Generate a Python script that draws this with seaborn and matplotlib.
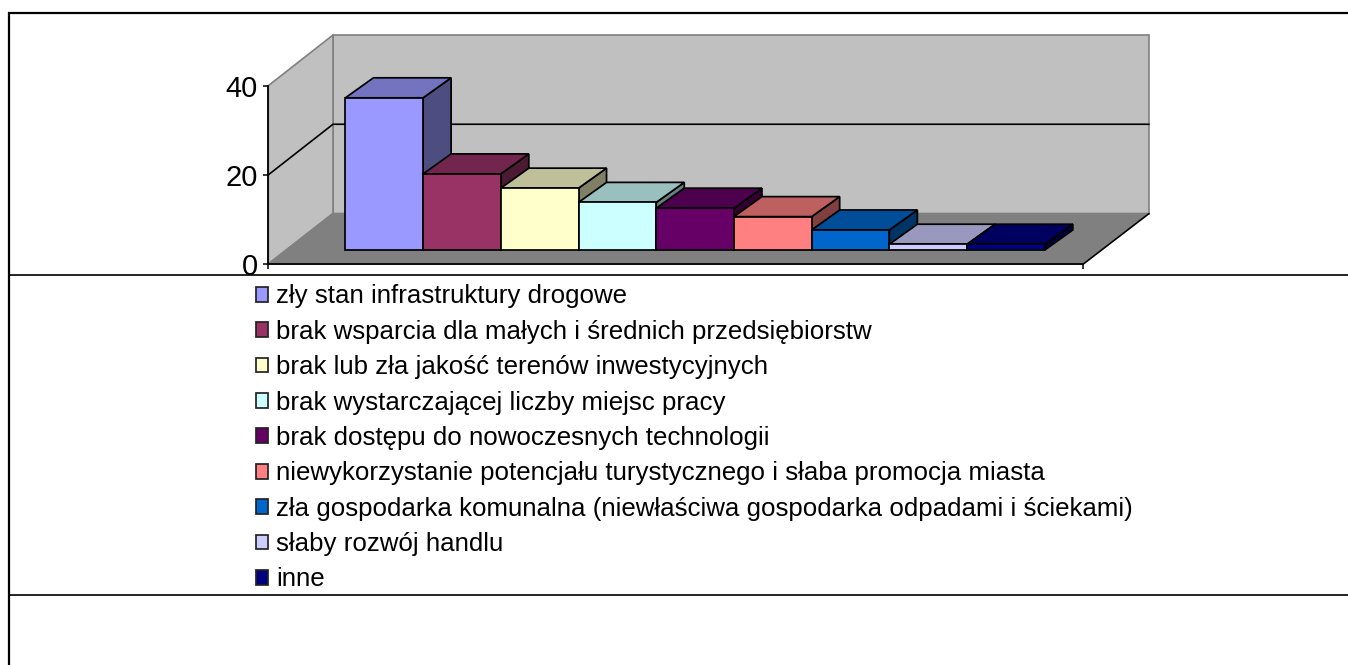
import matplotlib
matplotlib.use("Agg")
import matplotlib.pyplot as plt
import matplotlib.colors as mc
from matplotlib.patches import Polygon
import pandas as pd
import seaborn as sns

categories = [
    "zły stan infrastruktury drogowe",
    "brak wsparcia dla małych i średnich przedsiębiorstw",
    "brak lub zła jakość terenów inwestycyjnych",
    "brak wystarczającej liczby miejsc pracy",
    "brak dostępu do nowoczesnych technologii",
    "niewykorzystanie potencjału turystycznego i słaba promocja miasta",
    "zła gospodarka komunalna (niewłaściwa gospodarka odpadami i ściekami)",
    "słaby rozwój handlu",
    "inne",
]
values = [34.2, 17.1, 13.9, 10.7, 9.4, 7.5, 4.5, 1.3, 1.3]
colors = ["#9999FF", "#993366", "#FFFFCC", "#CCFFFF", "#660066",
          "#FF8080", "#0066CC", "#CCCCFF", "#000080"]
y_ticks = [0, 20, 40]

W, H = 1348, 665
PX_PER_UNIT = 4.45
BAR_LEFT, BAR_RIGHT = 345.4, 1044.8
BAR_PX = (BAR_RIGHT - BAR_LEFT) / 9
DEPTH_X, DEPTH_Y = 28.0, 20.0

sns.set_style("white")
plt.rcParams["font.family"] = ["Liberation Sans", "DejaVu Sans"]

fig = plt.figure(figsize=(W / 100, H / 100), dpi=100)
fig.patch.set_facecolor("white")


def rect(l, t, r, b):
    return [l / W, 1 - b / H, (r - l) / W, (b - t) / H]


# background: walls, floor and the outer frame, in pixel space
bg = fig.add_axes([0, 0, 1, 1], zorder=0)
bg.set_xlim(0, W)
bg.set_ylim(H, 0)
bg.axis("off")

fl, fr, fb, ftop = 268.3, 1083.3, 264.0, 85.7
bl, br, bb, btop = 333.0, 1149.0, 213.5, 35.0
bg.add_patch(Polygon([(bl, btop), (br, btop), (br, bb), (bl, bb)], fc="#C0C0C0", ec="#808080", lw=1.2))
bg.add_patch(Polygon([(fl, ftop), (bl, btop), (bl, bb), (fl, fb)], fc="#C0C0C0", ec="#808080", lw=1.2))
bg.add_patch(Polygon([(fl, fb), (bl, bb), (br, bb), (fr, fb)], fc="#808080", ec="#808080", lw=1.2))
bg.plot([fr, br], [fb, bb], color="black", lw=1.1)

# gridline on the walls for each inner tick
for t in y_ticks[1:-1]:
    yf = fb - (fb - ftop) * t / y_ticks[-1]
    yb = bb - (bb - btop) * t / y_ticks[-1]
    bg.plot([fl, bl, br], [yf, yb, yb], color="black", lw=1.2)

# frame
bg.plot([W, 9, 9], [13, 13, H], color="black", lw=1.6, solid_joinstyle="miter")
bg.plot([9, W], [274.5, 274.5], color="black", lw=1.2)
bg.plot([9, W], [595, 595], color="black", lw=1.2)

# value axis on the front plane
ax2 = fig.add_axes(rect(fl, ftop, fr, fb), zorder=1)
ax2.patch.set_alpha(0)
ax2.set_ylim(y_ticks[0], y_ticks[-1])
ax2.set_xlim(0, 1)
ax2.set_yticks(y_ticks)
ax2.set_xticks([0, 1])
ax2.set_xticklabels([])
ax2.tick_params(axis="y", left=True, length=3.6, width=1.1, labelsize=21, pad=4, color="black", labelcolor="black")
ax2.tick_params(axis="x", bottom=True, length=3.6, width=1.1, color="black")
for s in ["top", "right"]:
    ax2.spines[s].set_visible(False)
for s in ["left", "bottom"]:
    ax2.spines[s].set_color("black")
    ax2.spines[s].set_linewidth(1.3)

# bars
base_y = 250.0
top_y = 50.0
ax = fig.add_axes(rect(BAR_LEFT, top_y, BAR_RIGHT, base_y), zorder=2)
ax.patch.set_alpha(0)
df = pd.DataFrame({"kategoria": categories, "wartosc": values})
sns.barplot(data=df, x="kategoria", y="wartosc", hue="kategoria", order=categories,
            hue_order=categories, palette=colors, saturation=1, width=1, dodge=False,
            edgecolor="black", linewidth=1.25, legend=False, ax=ax)
ax.set_xlim(-0.5, len(categories) - 0.5)
ax.set_ylim(0, (base_y - top_y) / PX_PER_UNIT)
ax.axis("off")

dx = DEPTH_X / BAR_PX
dy = DEPTH_Y / PX_PER_UNIT
handles = []
bars = [p for c in ax.containers for p in c]
for i, (bar, col) in enumerate(zip(bars, colors)):
    rgb = mc.to_rgb(col)
    x0, x1, h = bar.get_x(), bar.get_x() + bar.get_width(), bar.get_height()
    side = tuple(c * 0.5 for c in rgb)
    top = tuple(c * 0.75 for c in rgb)
    z = 3 + i * 3
    ax.add_patch(Polygon([(x1, 0), (x1 + dx, dy), (x1 + dx, h + dy), (x1, h)], fc=side, ec="black", lw=1.25,
                         zorder=z, clip_on=False, joinstyle="miter"))
    ax.add_patch(Polygon([(x0, h), (x0 + dx, h + dy), (x1 + dx, h + dy), (x1, h)], fc=top, ec="black", lw=1.25,
                         zorder=z + 1, clip_on=False, joinstyle="miter"))
    bar.set_zorder(z + 2)
    bar.set_clip_on(False)
    handles.append(plt.Rectangle((0, 0), 1, 1, fc=col, ec="#222222", lw=1.25, label=categories[i]))

fig.legend(handles=handles, loc="upper left", bbox_to_anchor=(255.5 / W, 1 - 284.5 / H),
           frameon=False, fontsize=18.6, borderpad=0, borderaxespad=0,
           handlelength=0.5, handleheight=0.5, handletextpad=0.29, labelspacing=0.44,
           labelcolor="black")

fig.savefig("out.png", dpi=100)
